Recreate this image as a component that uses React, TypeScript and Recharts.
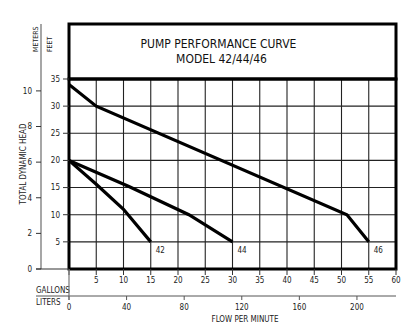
import {
  LineChart,
  Line,
  XAxis,
  YAxis,
  CartesianGrid,
  ReferenceArea,
  Label,
} from 'recharts'

// flow in gallons per minute / total dynamic head in feet
const gpm42 = [0, 5, 10, 15]
const head42 = [20, 15.6, 11, 5]
const gpm44 = [0, 11, 22, 30]
const head44 = [20, 15.2, 10, 5]
const gpm46 = [0, 5, 51, 55]
const head46 = [34, 30, 10, 5]

const gallonTicks = [0, 5, 10, 15, 20, 25, 30, 35, 40, 45, 50, 55, 60]
const literTicks = [0, 40, 80, 120, 160, 200]
const feetTicks = [5, 10, 15, 20, 25, 30, 35]
const meterTicks = [0, 2, 4, 6, 8, 10]
const gridX = [5, 10, 15, 20, 25, 30, 35, 40, 45, 50, 55]
const gridY = [5, 10, 15, 20, 25, 30]

const GAL_MAX = 60
const FT_MAX = 45.13 // top of the title box
const LITERS_PER_GAL = 3.7854
const FT_PER_M = 3.2808

const FONT = '"Liberation Sans Narrow", "DejaVu Sans Condensed", "Roboto", sans-serif'

const toPoints = (xs: number[], ys: number[]) => xs.map((gpm, i) => ({ gpm, ft: ys[i] }))

const curves = [
  { name: '42', data: toPoints(gpm42, head42) },
  { name: '44', data: toPoints(gpm44, head44) },
  { name: '46', data: toPoints(gpm46, head46) },
]

// chart-level rows so the liters axis has something to bind to
const literRows = literTicks.map((liters) => ({ liters }))

function EndLabel(props: any, name: string, count: number) {
  const { x, y, index } = props
  if (index !== count - 1) return null
  return (
    <text x={x + 5} y={y + 11} fontSize={8} fill="#222">
      {name}
    </text>
  )
}

function GallonTick(props: any) {
  const { x, y, payload } = props
  if (payload.value === 0) return null
  return (
    <text x={x} y={y} dy="0.71em" textAnchor="middle" fontSize={8} fill="#222">
      {payload.value}
    </text>
  )
}

function LiterTick(props: any) {
  const { x, y, payload } = props
  const axisY = y - 8
  return (
    <g>
      {payload.value === 0 && (
        <>
          <line x1={x} x2={x} y1={axisY - 27} y2={axisY + 4} stroke="#777" strokeWidth={1.2} />
          <line x1={x - 33} x2={x} y1={axisY} y2={axisY} stroke="#555" strokeWidth={1} />
        </>
      )}
      <text x={x} y={y} dy="0.71em" textAnchor="middle" fontSize={8} fill="#222">
        {payload.value}
      </text>
    </g>
  )
}

function MeterTick(props: any) {
  const { x, y, payload } = props
  return (
    <g>
      {payload.value === 0 && (
        <line x1={x + 4} x2={x + 9 + 28} y1={y} y2={y} stroke="#333" strokeWidth={1.2} />
      )}
      <text x={x} y={y} dy="0.355em" textAnchor="end" fontSize={8} fill="#222">
        {payload.value}
      </text>
    </g>
  )
}

function TitleLabel(props: any) {
  const { x, y, width } = props.viewBox
  const cx = x + width / 2
  return (
    <g>
      <text x={cx - 14} y={y + 19.5} dy="0.355em" textAnchor="middle" fontSize={12} fill="#111">
        PUMP PERFORMANCE CURVE
      </text>
      <text x={cx - 11} y={y + 35} dy="0.355em" textAnchor="middle" fontSize={12} fill="#111">
        MODEL 42/44/46
      </text>
    </g>
  )
}

export default function App() {
  return (
    <div style={{ position: 'absolute', left: 0, top: 0, width: 418, height: 329, background: '#fff', fontFamily: FONT }}>
      <LineChart
        width={418}
        height={329}
        data={literRows}
        margin={{ top: 24, right: 22, left: 0, bottom: 0 }}
      >
        <CartesianGrid
          horizontalValues={gridY}
          verticalValues={gridX}
          stroke="#222"
          strokeWidth={1.1}
        />
        <XAxis
          dataKey="gpm"
          type="number"
          domain={[0, GAL_MAX]}
          ticks={gallonTicks}
          interval={0}
          axisLine={false}
          tickLine={{ stroke: '#333' }}
          tickSize={6}
          tickMargin={2}
          tick={GallonTick}
          height={27}
          allowDataOverflow
        />
        <XAxis
          xAxisId="l"
          dataKey="liters"
          type="number"
          domain={[0, GAL_MAX * LITERS_PER_GAL]}
          ticks={literTicks}
          interval={0}
          axisLine={{ stroke: '#555' }}
          tickLine={{ stroke: '#555' }}
          tickSize={4}
          tickMargin={4}
          tick={LiterTick}
          height={33}
          allowDataOverflow
        />
        <YAxis
          type="number"
          domain={[0, FT_MAX]}
          ticks={feetTicks}
          interval={0}
          axisLine={false}
          tickLine={{ stroke: '#333' }}
          tickSize={6}
          tickMargin={3}
          tick={{ fontSize: 8, fill: '#222' }}
          width={28}
          allowDataOverflow
        />
        <YAxis
          yAxisId="m"
          type="number"
          domain={[0, FT_MAX / FT_PER_M]}
          ticks={meterTicks}
          interval={0}
          axisLine={{ stroke: '#777', strokeWidth: 1.3 }}
          tickLine={{ stroke: '#333' }}
          tickSize={5}
          tickMargin={4}
          tick={MeterTick}
          width={41}
          allowDataOverflow
        />
        <ReferenceArea
          x1={0}
          x2={GAL_MAX}
          y1={35}
          y2={FT_MAX}
          fill="#fff"
          fillOpacity={1}
          stroke="#000"
          strokeWidth={3}
          ifOverflow="visible"
        >
          <Label content={TitleLabel} />
        </ReferenceArea>
        <ReferenceArea
          x1={0}
          x2={GAL_MAX}
          y1={0}
          y2={35}
          fill="none"
          stroke="#000"
          strokeWidth={3}
          ifOverflow="visible"
        />
        {curves.map((c) => (
          <Line
            key={c.name}
            data={c.data}
            dataKey="ft"
            type="linear"
            stroke="#000"
            strokeWidth={3.2}
            dot={false}
            isAnimationActive={false}
            label={(p: any) => EndLabel(p, c.name, c.data.length)}
          />
        ))}
        <text x={35.5} y={52} dy="0.35em" transform="rotate(-90 35.5 52)" fontSize={7} fill="#222">
          METERS
        </text>
        <text x={49.5} y={52} dy="0.35em" transform="rotate(-90 49.5 52)" fontSize={7} fill="#222">
          FEET
        </text>
        <text x={23.5} y={164} dy="0.35em" transform="rotate(-90 23.5 164)" textAnchor="middle" fontSize={8} fill="#222">
          TOTAL DYNAMIC HEAD
        </text>
        <text x={36} y={290} dy="0.355em" fontSize={8} fill="#222">
          GALLONS
        </text>
        <text x={36} y={302} dy="0.355em" fontSize={8} fill="#222">
          LITERS
        </text>
        <text x={245} y={319.5} dy="0.355em" textAnchor="middle" fontSize={8} fill="#222">
          FLOW PER MINUTE
        </text>
      </LineChart>
    </div>
  )
}
